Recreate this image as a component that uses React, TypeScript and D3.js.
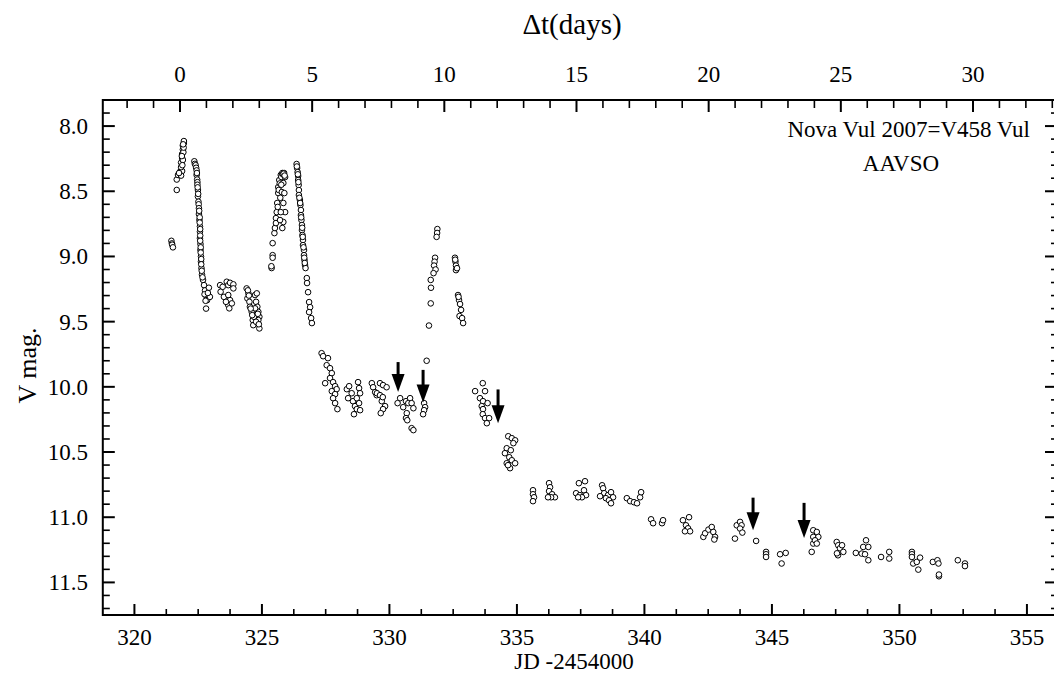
import React from "react";
import * as d3 from "d3";

// V458 Vul (Nova Vul 2007) AAVSO V-band observations, [JD-2454000, V mag]
const night321 = [
  [321.45, 8.88], [321.47, 8.9], [321.48, 8.91], [321.51, 8.93],
  [321.66, 8.49], [321.66, 8.41], [321.71, 8.375], [321.79, 8.35], [321.87, 8.345],
  [321.83, 8.38], [321.75, 8.36], [321.83, 8.28], [321.87, 8.245], [321.87, 8.215],
  [321.9, 8.18], [321.9, 8.15], [321.94, 8.13], [321.94, 8.115], [321.9, 8.26],
  [321.83, 8.315], [321.92, 8.2], [321.88, 8.3], [321.86, 8.23], [321.93, 8.165], [321.91, 8.14],
];
const night322 = [
  [322.35, 8.27], [322.37, 8.29], [322.4, 8.3], [322.42, 8.32], [322.44, 8.34], [322.44, 8.375],
  [322.45, 8.36], [322.46, 8.41], [322.47, 8.43], [322.47, 8.45], [322.49, 8.49], [322.48, 8.47],
  [322.49, 8.54], [322.5, 8.52], [322.51, 8.58], [322.52, 8.6], [322.53, 8.63], [322.53, 8.675],
  [322.54, 8.65], [322.55, 8.72], [322.56, 8.7], [322.57, 8.77], [322.56, 8.74], [322.57, 8.81],
  [322.58, 8.79], [322.57, 8.86], [322.58, 8.84], [322.59, 8.905], [322.58, 8.88], [322.59, 8.95],
  [322.6, 8.93], [322.61, 9.0], [322.6, 8.97], [322.61, 9.04], [322.62, 9.02], [322.63, 9.09],
  [322.62, 9.06], [322.65, 9.14], [322.64, 9.11], [322.69, 9.18], [322.67, 9.16], [322.73, 9.22],
  [322.77, 9.26], [322.81, 9.3], [322.85, 9.335], [322.81, 9.4], [322.96, 9.31], [322.92, 9.24],
  [322.75, 9.29], [322.79, 9.34], [322.88, 9.28],
];
const night323 = [
  [323.36, 9.22], [323.46, 9.233], [323.38, 9.271], [323.51, 9.31], [323.62, 9.194], [323.68, 9.22],
  [323.75, 9.202], [323.88, 9.214], [323.88, 9.245], [323.68, 9.296], [323.75, 9.335], [323.68, 9.373],
  [323.82, 9.36], [323.59, 9.348], [323.72, 9.398],
];
const night324 = [
  [324.4, 9.245], [324.47, 9.283], [324.43, 9.322], [324.51, 9.348], [324.53, 9.386], [324.6, 9.425],
  [324.64, 9.488], [324.66, 9.527], [324.73, 9.296], [324.8, 9.283], [324.77, 9.348], [324.82, 9.386],
  [324.86, 9.425], [324.9, 9.463], [324.86, 9.488], [324.9, 9.552], [324.69, 9.463], [324.77, 9.501],
  [324.73, 9.398], [324.45, 9.26], [324.49, 9.3], [324.56, 9.4], [324.62, 9.45], [324.84, 9.44], [324.88, 9.52],
];
const night325 = [
  [325.38, 9.089], [325.37, 9.075], [325.42, 8.99], [325.42, 9.01], [325.42, 8.898], [325.49, 8.821],
  [325.51, 8.782], [325.55, 8.706], [325.55, 8.744], [325.58, 8.66], [325.6, 8.59], [325.62, 8.62],
  [325.64, 8.514], [325.64, 8.468], [325.66, 8.49], [325.68, 8.414], [325.7, 8.44], [325.74, 8.375],
  [325.76, 8.39], [325.8, 8.36], [325.82, 8.37], [325.87, 8.36], [325.85, 8.365], [325.91, 8.391],
  [325.84, 8.437], [325.78, 8.506], [325.88, 8.514], [325.84, 8.59], [325.91, 8.66], [325.74, 8.66],
  [325.84, 8.736], [325.8, 8.782], [325.71, 8.721], [325.72, 8.55], [325.76, 8.45], [325.89, 8.38],
];
const night326 = [
  [326.36, 8.291], [326.38, 8.322], [326.4, 8.353], [326.42, 8.383], [326.42, 8.414], [326.44, 8.452],
  [326.45, 8.491], [326.45, 8.529], [326.49, 8.567], [326.51, 8.606], [326.53, 8.644], [326.53, 8.683],
  [326.55, 8.721], [326.57, 8.759], [326.57, 8.798], [326.59, 8.836], [326.61, 8.874], [326.61, 8.913],
  [326.65, 8.951], [326.65, 8.99], [326.67, 9.028], [326.69, 9.066], [326.71, 9.089], [326.76, 9.166],
  [326.77, 9.204], [326.81, 9.274], [326.85, 9.35], [326.89, 9.389], [326.85, 9.427], [326.93, 9.473],
  [326.96, 9.511], [326.37, 8.31], [326.41, 8.37], [326.43, 8.43], [326.47, 8.55], [326.5, 8.59],
  [326.54, 8.7], [326.58, 8.78], [326.6, 8.85], [326.63, 8.93], [326.66, 9.01], [326.68, 9.05],
];
const night327 = [
  [327.34, 9.742], [327.4, 9.765], [327.59, 9.78], [327.54, 9.834], [327.67, 9.857], [327.74, 9.895],
  [327.67, 9.933], [327.79, 9.964], [327.48, 9.972], [327.87, 9.995], [327.93, 10.018], [327.74, 10.033],
  [327.87, 10.056], [327.79, 10.087], [327.87, 10.125], [327.96, 10.171],
];
const night328 = [
  [328.33, 10.018], [328.42, 9.995], [328.38, 10.087], [328.52, 10.049], [328.57, 10.11], [328.65, 10.148],
  [328.61, 10.21], [328.72, 10.171], [328.77, 9.964], [328.81, 10.01], [328.85, 10.049], [328.81, 10.125],
  [328.85, 10.179], [328.72, 10.087],
];
const night329 = [
  [329.31, 9.972], [329.36, 10.003], [329.44, 10.041], [329.5, 10.064], [329.63, 9.972], [329.75, 9.987],
  [329.89, 10.003], [329.7, 10.11], [329.83, 10.148], [329.75, 10.171], [329.66, 10.202], [329.51, 10.049],
  [329.63, 10.064], [329.74, 10.079],
];
const night330 = [
  [330.42, 10.087], [330.32, 10.125], [330.65, 10.11], [330.81, 10.087], [330.74, 10.125], [330.87, 10.125],
  [330.54, 10.156], [330.94, 10.164], [330.68, 10.202], [330.65, 10.24], [330.7, 10.256], [330.87, 10.317],
  [330.94, 10.332],
];
const night331 = [
  [331.36, 10.125], [331.4, 10.156], [331.36, 10.179], [331.32, 10.21],
  [331.88, 8.79], [331.87, 8.82], [331.85, 8.85], [331.79, 9.01], [331.77, 9.04], [331.75, 9.07],
  [331.81, 9.1], [331.73, 9.128], [331.62, 9.18], [331.63, 9.24], [331.62, 9.36], [331.55, 9.53], [331.46, 9.8],
];
const night332 = [
  [332.57, 9.01], [332.59, 9.04], [332.61, 9.07], [332.61, 9.105], [332.65, 9.09], [332.58, 9.025],
  [332.69, 9.296], [332.73, 9.335], [332.77, 9.365], [332.81, 9.41], [332.75, 9.457], [332.85, 9.473],
  [332.89, 9.511], [332.71, 9.31],
];
const night333 = [
  [333.36, 10.033], [333.66, 9.972], [333.75, 10.033], [333.55, 10.087], [333.67, 10.11], [333.85, 10.125],
  [333.62, 10.148], [333.67, 10.171], [333.66, 10.21], [333.75, 10.24], [333.91, 10.24], [333.82, 10.279],
];
const night334 = [
  [334.66, 10.379], [334.8, 10.394], [334.93, 10.41], [334.86, 10.432], [334.6, 10.471], [334.76, 10.486],
  [334.53, 10.509], [334.7, 10.54], [334.8, 10.563], [334.6, 10.586], [334.93, 10.586], [334.73, 10.624],
  [334.65, 10.601],
];
const night335to339 = [
  [335.63, 10.793], [335.63, 10.824], [335.67, 10.847], [335.63, 10.877],
  [336.26, 10.739], [336.3, 10.77], [336.26, 10.8], [336.38, 10.824], [336.49, 10.847], [336.34, 10.847], [336.22, 10.847],
  [337.43, 10.739], [337.67, 10.724], [337.63, 10.793], [337.32, 10.816], [337.47, 10.831], [337.71, 10.831],
  [337.55, 10.847], [337.4, 10.847],
  [338.34, 10.755], [338.38, 10.778], [338.42, 10.816], [338.57, 10.831], [338.69, 10.808], [338.77, 10.847],
  [338.26, 10.839], [338.49, 10.854], [338.61, 10.87], [338.69, 10.893],
  [339.31, 10.854], [339.44, 10.877], [339.59, 10.885], [339.71, 10.893], [339.83, 10.847], [339.87, 10.808],
];
const night340to345 = [
  [340.26, 11.016], [340.34, 11.046], [340.69, 11.046], [340.73, 11.023],
  [341.51, 11.023], [341.63, 11.062], [341.71, 11.085], [341.79, 11.108], [341.59, 11.108], [341.75, 11.0],
  [342.31, 11.151], [342.38, 11.123], [342.51, 11.095], [342.64, 11.075], [342.7, 11.113], [342.77, 11.151], [342.74, 11.171],
  [343.55, 11.164], [343.62, 11.062], [343.75, 11.036], [343.81, 11.062], [343.75, 11.087], [343.84, 11.118],
  [344.38, 11.182], [344.77, 11.266], [344.77, 11.284], [344.77, 11.305],
  [345.32, 11.284], [345.54, 11.274], [345.38, 11.355],
];
const night346to353 = [
  [346.56, 11.266], [346.62, 11.1], [346.62, 11.151], [346.62, 11.202], [346.76, 11.113], [346.82, 11.151],
  [346.69, 11.177], [346.76, 11.202],
  [347.54, 11.19], [347.6, 11.215], [347.67, 11.238], [347.8, 11.266], [347.59, 11.292], [347.75, 11.215], [347.55, 11.277],
  [348.29, 11.274], [348.52, 11.279], [348.58, 11.228], [348.69, 11.177], [348.78, 11.228], [348.65, 11.284], [348.78, 11.33],
  [349.28, 11.305], [349.6, 11.266], [349.6, 11.317],
  [350.49, 11.266], [350.49, 11.284], [350.49, 11.305], [350.54, 11.355], [350.68, 11.343], [350.81, 11.31], [350.74, 11.402],
  [351.31, 11.343], [351.49, 11.33], [351.53, 11.355], [351.55, 11.453], [351.55, 11.44],
  [352.29, 11.33], [352.57, 11.355], [352.57, 11.375],
];

// arrows marking the oscillation minima
const arrowJD = [330.34, 331.32, 334.26, 344.26, 346.26];
const arrowTop = [9.81, 9.87, 10.02, 10.85, 10.89];
const arrowTip = [10.04, 10.12, 10.28, 11.1, 11.16];

const jdTicks = [320, 325, 330, 335, 340, 345, 350, 355];
const dtTicks = [0, 5, 10, 15, 20, 25, 30];
const magTicks = [8.0, 8.5, 9.0, 9.5, 10.0, 10.5, 11.0, 11.5];

const W = 1054;
const H = 674;
const left = 102.8;
const right = 1056;
const top = 100;
const bottom = 615;

const font = "'Liberation Serif', 'Times New Roman', serif";

export default function App() {
  const x = d3.scaleLinear().domain([318.76, 356.14]).range([left, right]);
  const xTop = d3.scaleLinear().domain([-2.92, 33.14]).range([left, right]);
  const y = d3.scaleLinear().domain([7.8, 11.75]).range([top, bottom]);

  const obs = [
    ...night321, ...night322, ...night323, ...night324, ...night325, ...night326,
    ...night327, ...night328, ...night329, ...night330, ...night331, ...night332,
    ...night333, ...night334, ...night335to339, ...night340to345, ...night346to353,
  ];

  const jdMinor = d3.range(0, 31).map((i) => 318.75 + i * 1.25).filter((v) => v > 318.76 && v < 356.14 && !jdTicks.includes(v));
  const dtMinor = d3.range(-2, 34).filter((v) => v % 5 !== 0);
  const magMinor = d3.range(78, 118).map((v) => v / 10).filter((v) => Math.round(v * 10) % 5 !== 0);
  const fmt = d3.format(".1f");

  return (
    <svg width={W} height={H} style={{ position: "absolute", left: 0, top: 0, background: "white" }} fontFamily={font}>
      <rect x={0} y={0} width={W} height={H} fill="white" />

      {/* data */}
      <g>
        {obs.map((d, i) => (
          <circle key={i} cx={x(d[0])} cy={y(d[1])} r={2.8} fill="white" stroke="black" strokeWidth={1} />
        ))}
      </g>

      {/* arrows */}
      <g>
        {arrowJD.map((jd, i) => {
          const ax = x(jd);
          const y0 = y(arrowTop[i]);
          const y1 = y(arrowTip[i]);
          return (
            <g key={i}>
              <line x1={ax} x2={ax} y1={y0} y2={y1 - 14} stroke="black" strokeWidth={3} />
              <polygon points={`${ax - 6.5},${y1 - 18} ${ax + 6.5},${y1 - 18} ${ax},${y1}`} fill="black" />
            </g>
          );
        })}
      </g>

      {/* frame */}
      <rect x={left} y={top} width={right - left} height={bottom - top} fill="none" stroke="black" strokeWidth={2} />

      {/* bottom axis */}
      <g>
        {jdTicks.map((t) => (
          <g key={t}>
            <line x1={x(t)} x2={x(t)} y1={bottom} y2={bottom - 11} stroke="black" strokeWidth={2} />
            <text x={x(t)} y={645} fontSize={23} textAnchor="middle">{t}</text>
          </g>
        ))}
        {jdMinor.map((t) => (
          <line key={t} x1={x(t)} x2={x(t)} y1={bottom} y2={bottom - 6} stroke="black" strokeWidth={1.6} />
        ))}
        <text x={574} y={669} fontSize={23} textAnchor="middle">JD -2454000</text>
      </g>

      {/* top axis */}
      <g>
        {dtTicks.map((t) => (
          <g key={t}>
            <line x1={xTop(t)} x2={xTop(t)} y1={top} y2={top + 12} stroke="black" strokeWidth={2} />
            <text x={xTop(t)} y={82} fontSize={23} textAnchor="middle">{t}</text>
          </g>
        ))}
        {dtMinor.map((t) => (
          <line key={t} x1={xTop(t)} x2={xTop(t)} y1={top} y2={top + 8} stroke="black" strokeWidth={1.6} />
        ))}
        <text x={572} y={34} fontSize={29} textAnchor="middle">Δt(days)</text>
      </g>

      {/* left and right axes */}
      <g>
        {magTicks.map((t) => (
          <g key={t}>
            <line x1={left} x2={left + 12} y1={y(t)} y2={y(t)} stroke="black" strokeWidth={2} />
            <line x1={W} x2={W - 9} y1={y(t)} y2={y(t)} stroke="black" strokeWidth={2} />
            <text x={88} y={y(t) + 8} fontSize={23} textAnchor="end">{fmt(t)}</text>
          </g>
        ))}
        {magMinor.map((t) => (
          <g key={t}>
            <line x1={left} x2={left + 7} y1={y(t)} y2={y(t)} stroke="black" strokeWidth={1.6} />
            <line x1={W} x2={W - 3} y1={y(t)} y2={y(t)} stroke="black" strokeWidth={1.6} />
          </g>
        ))}
        <text transform={`translate(36, ${(top + bottom) / 2 + 8}) rotate(-90)`} fontSize={26} textAnchor="middle">V mag.</text>
      </g>

      {/* labels */}
      <text x={1030} y={137} fontSize={23} textAnchor="end">Nova Vul 2007=V458 Vul</text>
      <text x={901} y={171} fontSize={23} textAnchor="middle">AAVSO</text>
    </svg>
  );
}
